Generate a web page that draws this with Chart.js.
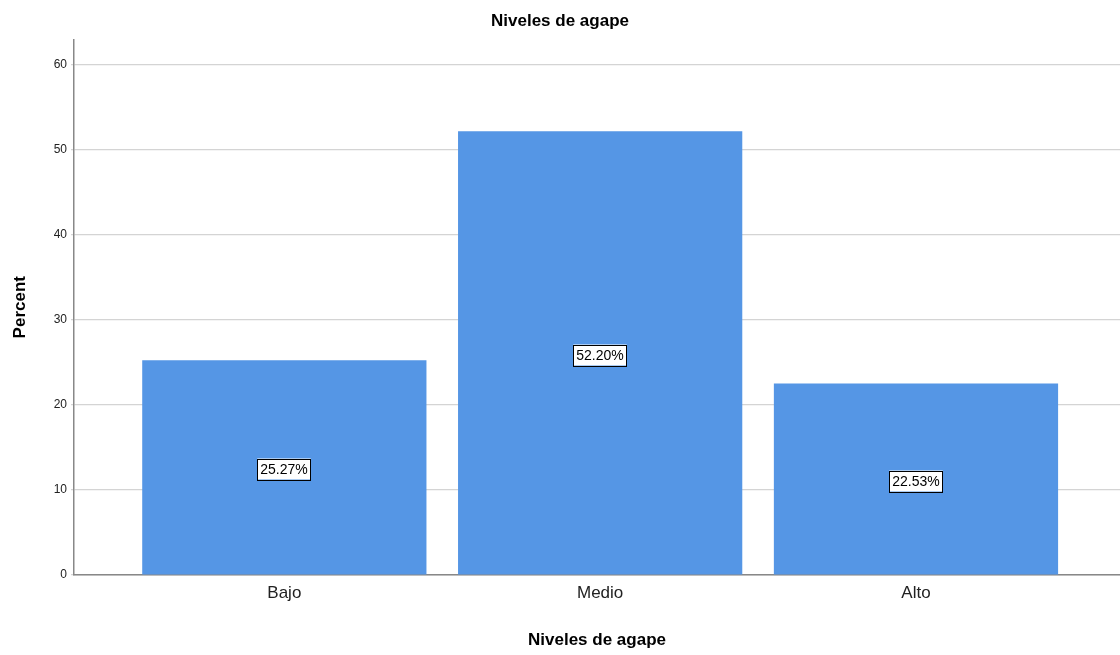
<!DOCTYPE html>
<html>
<head>
<meta charset="utf-8">
<script src="https://cdn.jsdelivr.net/npm/chart.js@4/dist/chart.umd.min.js"></script>
<style>
  html, body { margin: 0; padding: 0; background: #fff; }
  #wrap { width: 1120px; height: 655px; position: relative; }
</style>
</head>
<body>
<div id="wrap"><canvas id="chart"></canvas></div>
<script>
// --- DADOS ---
const categories = ['Bajo', 'Medio', 'Alto'];
const percentValues = [25.27, 52.20, 22.53];
const yTicks = [0, 10, 20, 30, 40, 50, 60];

const FONT = "'Liberation Sans', Arial, sans-serif";

// caixinhas com o percentual no meio de cada barra
const barLabels = {
    id: 'barLabels',
    afterDatasetsDraw(chart) {
        const ctx = chart.ctx;
        const meta = chart.getDatasetMeta(0);
        ctx.save();
        ctx.font = '14px ' + FONT;
        ctx.textAlign = 'center';
        ctx.textBaseline = 'middle';
        meta.data.forEach((bar, i) => {
            const txt = percentValues[i].toFixed(2) + '%';
            const w = ctx.measureText(txt).width + 6;
            const h = 21;
            const cx = Math.round(bar.x);
            const cy = Math.round((bar.y + bar.base) / 2) + 2;
            ctx.fillStyle = '#fff';
            ctx.fillRect(cx - w / 2, cy - h / 2, w, h);
            ctx.strokeStyle = '#000';
            ctx.lineWidth = 1;
            ctx.strokeRect(Math.round(cx - w / 2) + 0.5, Math.round(cy - h / 2) + 0.5, Math.round(w), h);
            ctx.fillStyle = '#000';
            ctx.fillText(txt, cx, cy + 1);
        });
        ctx.restore();
    }
};

new Chart(document.getElementById('chart'), {
    type: 'bar',
    data: {
        datasets: [{
            data: percentValues.map((v, i) => ({ x: i, y: v })),
            backgroundColor: '#5596e5',
            borderWidth: 0,
            categoryPercentage: 0.9,
            barPercentage: 1
        }]
    },
    options: {
        responsive: true,
        maintainAspectRatio: false,
        animation: false,
        layout: { padding: { left: 0, right: 0, top: 0, bottom: 0 } },
        plugins: {
            legend: { display: false },
            tooltip: { enabled: false },
            title: {
                display: true,
                text: 'Niveles de agape',
                color: '#000',
                font: { family: FONT, size: 17, weight: 'bold' },
                padding: { top: 11, bottom: 8 }
            }
        },
        scales: {
            x: {
                type: 'linear',
                offset: false,
                min: -0.666,
                max: 2.646,
                afterDataLimits: (scale) => { scale.min = -0.666; scale.max = 2.646; },
                afterBuildTicks: (scale) => { scale.ticks = categories.map((c, i) => ({ value: i })); },
                afterFit: (scale) => { scale.height = 80; },
                ticks: {
                    color: '#222',
                    font: { family: FONT, size: 17 },
                    padding: 8,
                    callback: (v) => categories[v]
                },
                grid: { display: false, drawTicks: false, offset: false },
                border: { display: true, color: '#888', width: 1.5 },
                title: {
                    display: true,
                    text: 'Niveles de agape',
                    color: '#000',
                    font: { family: FONT, size: 17, weight: 'bold' },
                    padding: { top: 14 }
                }
            },
            y: {
                min: 0,
                max: 63,
                afterBuildTicks: (scale) => { scale.ticks = yTicks.map(v => ({ value: v })); },
                afterFit: (scale) => { scale.width = 74; },
                ticks: {
                    color: '#222',
                    font: { family: FONT, size: 12 },
                    padding: 4
                },
                grid: { color: '#d4d4d4', lineWidth: 1.2, tickLength: 3 },
                border: { display: true, color: '#888', width: 1.5 },
                title: {
                    display: true,
                    text: 'Percent',
                    color: '#000',
                    font: { family: FONT, size: 17, weight: 'bold' },
                    padding: { top: 10, bottom: 0 }
                }
            }
        }
    },
    plugins: [barLabels]
});
</script>
</body>
</html>
